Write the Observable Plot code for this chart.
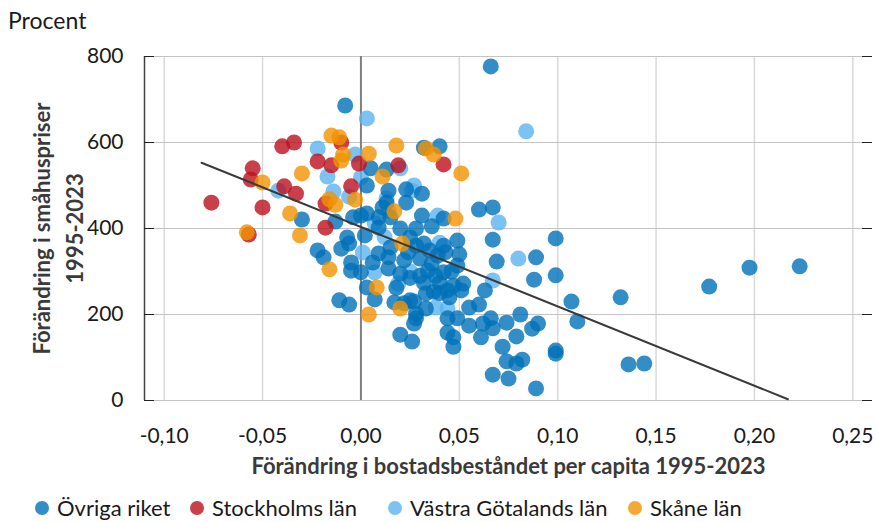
<!DOCTYPE html>
<html>
<head>
<meta charset="utf-8">
<script src="https://cdn.jsdelivr.net/npm/d3@7"></script>
<script src="https://cdn.jsdelivr.net/npm/@observablehq/plot@0.6"></script>
<style>
  body { margin: 0; background: #fff; font-family: Lato, sans-serif; }
  #wrap { width: 877px; height: 522px; position: relative; overflow: hidden; background: #fff; }
  #title { height: 40px; font-size: 23px; line-height: 40px; padding-left: 8px; color: #1a1a1a; }
  #legend { position: relative; height: 37px; font-size: 22px; line-height: 24px; color: #1a1a1a; }
  .item { position: absolute; top: 11px; display: flex; align-items: center; white-space: nowrap; }
  .sw { width: 14px; height: 14px; border-radius: 50%; display: inline-block; margin-right: 8px; }
  svg { display: block; }
</style>
</head>
<body>
<div id="wrap">
  <div id="title">Procent</div>
  <div id="chart"></div>
  <div id="legend"></div>
</div>
<script>
// ---- Data ----
const seriesNames = ["Övriga riket", "Stockholms län", "Västra Götalands län", "Skåne län"];
const seriesColors = ["#0070b8", "#bb101e", "#5bb3ef", "#f29200"];

const ovrigaX = [0.066,-0.008,0.032,0.040,0.060,0.067,0.049,0.067,0.099,0.050,0.049,0.069,0.089,0.088,0.099,0.063,0.107,0.110,0.081,0.090,0.087,0.066,0.074,0.067,0.061,0.079,0.072,0.099,0.099,0.074,0.079,0.082,0.067,0.075,0.089,0.055,0.047,0.044,0.047,0.020,0.026,0.027,0.028,0.060,0.055,0.051,0.052,0.045,0.044,0.044,0.049,0.042,0.034,0.017,0.033,0.033,0.040,0.032,0.035,0.039,0.047,0.037,0.028,0.062,0.022,0.025,
  -0.030,-0.013,-0.004,-0.007,-0.022,-0.019,-0.010,-0.006,-0.005,-0.005,0.000,0.003,-0.011,-0.006,0.006,0.014,0.014,0.009,0.015,0.022,0.020,0.007,0.003,0.009,0.015,0.002,0.009,0.020,0.025,0.005,0.013,0.014,0.003,0.023,0.013,0.023,0.031,0.031,0.042,0.011,0.000,
  0.132,0.177,0.1975,0.223,0.136,0.144,
  0.028,0.030,0.036,0.043,0.025,0.030,0.038,0.046,0.018,0.028,0.036,0.042,0.024,0.032,0.040,0.027];
const ovrigaY = [777,686,588,591,444,449,372,374,377,340,314,323,333,281,291,256,230,184,200,179,167,191,181,168,147,149,125,116,109,91,86,95,60,51,28,174,147,158,125,153,137,179,202,223,216,256,272,240,256,191,191,298,302,228,214,249,274,274,349,337,267,253,191,179,226,233,
  421,416,426,379,349,333,353,365,321,302,298,263,233,223,321,307,333,342,356,326,295,235,435,426,426,384,402,400,379,540,537,488,500,491,460,460,481,430,423,449,430,
  240,265,309,312,84,86,
  360,330,318,345,285,290,290,300,262,400,405,360,345,365,250,230];

const stockholmX = [-0.076,-0.057,-0.055,-0.056,-0.050,-0.040,-0.034,-0.039,-0.033,-0.022,-0.018,-0.018,-0.015,-0.010,-0.005,-0.001,0.019,0.042];
const stockholmY = [460,386,540,514,449,591,600,498,481,556,402,458,547,600,498,551,547,549];

const vgX = [0.003,0.084,-0.022,-0.003,-0.017,0.000,-0.042,-0.014,-0.006,0.020,0.026,0.013,0.039,0.070,0.014,0.007,0.001,0.007,0.019,0.080,0.067,0.038,0.044,0.027,0.040,0.025,0.012];
const vgY = [656,626,586,572,521,519,488,486,474,540,488,470,430,414,442,412,344,298,272,330,279,216,214,500,367,300,380];

const skaneX = [-0.058,-0.050,-0.036,-0.031,-0.030,-0.016,-0.015,-0.011,-0.009,-0.010,-0.016,-0.013,-0.003,0.004,0.011,0.018,0.017,0.033,0.037,0.051,0.048,0.008,0.004,0.020,0.021];
const skaneY = [391,507,435,384,528,305,616,612,572,558,468,455,467,574,521,593,440,586,572,528,423,263,200,214,365];

const trendX = [-0.081, 0.217];
const trendY = [553, 3];

const xTicks = [-0.10,-0.05,0.00,0.05,0.10,0.15,0.20,0.25];
const yTicks = [0,200,400,600,800];
const xDomain = [-0.11, 0.26];
const yDomain = [0, 800];
const xTitle = "Förändring i bostadsbeståndet per capita 1995-2023";
const yTitle = "Förändring i småhuspriser\n1995-2023";

// ---- Build ----
const toRows = (xs, ys) => xs.map((x, i) => ({x, y: ys[i]}));
const groups = [toRows(ovrigaX, ovrigaY), toRows(stockholmX, stockholmY), toRows(vgX, vgY), toRows(skaneX, skaneY)];
const trend = toRows(trendX, trendY);
const fmt = d => d.toFixed(2).replace(".", ",");
const drawOrder = [2, 0, 1, 3];

const chart = Plot.plot({
  width: 877, height: 445,
  marginLeft: 144, marginRight: 5, marginTop: 16, marginBottom: 85,
  style: {fontFamily: "Lato, sans-serif", fontSize: "21px", color: "#1a1a1a", background: "white", overflow: "visible"},
  x: {domain: xDomain},
  y: {domain: yDomain},
  marks: [
    Plot.gridX(xTicks, {stroke: "#d9d9d9", strokeOpacity: 1, strokeWidth: 1.5}),
    Plot.gridY(yTicks, {stroke: "#c4c4c4", strokeOpacity: 1}),
    Plot.ruleX([0], {stroke: "#808080", strokeWidth: 2}),
    ...drawOrder.map(i => Plot.dot(groups[i], {x: "x", y: "y", r: 8, fill: seriesColors[i], fillOpacity: 0.8})),
    Plot.line(trend, {x: "x", y: "y", stroke: "#3a3a3a", strokeWidth: 2}),
    Plot.ruleX([xDomain[0]], {stroke: "#404040", strokeWidth: 1.5}),
    Plot.ruleY(yTicks, {stroke: "#222", insetRight: 718}),
    Plot.ruleY(yTicks, {stroke: "#222", insetLeft: 718}),
    Plot.axisX(xTicks, {tickSize: 0, tickPadding: 28, tickFormat: fmt, label: null}),
    Plot.axisY(yTicks, {tickSize: 0, tickPadding: 21, label: null}),
    Plot.text([xTitle], {text: d => d, frameAnchor: "bottom", dy: 66, lineAnchor: "middle", textAnchor: "middle", fontWeight: "bold", fontSize: 22, fill: "#3a3a3a"}),
    Plot.text([yTitle], {text: d => d, frameAnchor: "left", dx: -89, rotate: -90, textAnchor: "middle", lineAnchor: "middle", lineHeight: 1.5, fontWeight: "bold", fontSize: 22, fill: "#3a3a3a"})
  ]
});
document.getElementById("chart").appendChild(chart);

const legend = document.getElementById("legend");
const legendLeft = [35, 190, 388, 628];
seriesNames.forEach((name, i) => {
  const item = document.createElement("div");
  item.className = "item";
  item.style.left = legendLeft[i] + "px";
  const sw = document.createElement("span");
  sw.className = "sw";
  sw.style.background = seriesColors[i];
  sw.style.opacity = 0.8;
  const label = document.createElement("span");
  label.textContent = name;
  item.appendChild(sw);
  item.appendChild(label);
  legend.appendChild(item);
});
</script>
</body>
</html>
